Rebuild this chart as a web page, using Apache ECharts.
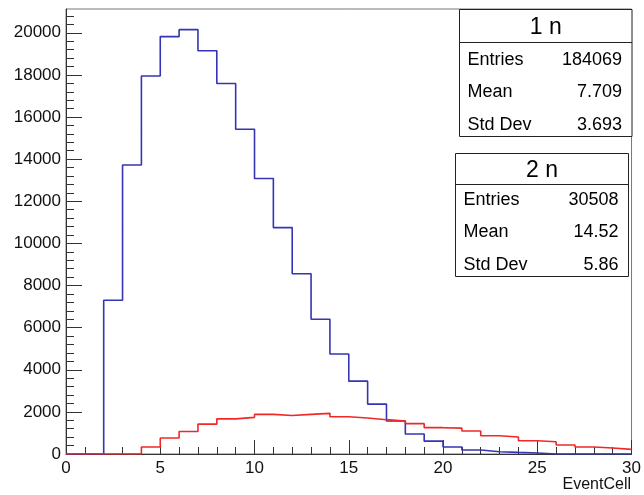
<!DOCTYPE html>
<html>
<head>
<meta charset="utf-8">
<script src="https://cdn.jsdelivr.net/npm/echarts@6/dist/echarts.min.js"></script>
<style>
  html, body { margin: 0; padding: 0; background: #ffffff; }
  #chart { width: 644px; height: 495px; }
</style>
</head>
<body>
<div id="chart"></div>
<script>
// EventCell distributions: 30 unit-width bins spanning 0..30
const binLowEdges = [0, 1, 2, 3, 4, 5, 6, 7, 8, 9, 10, 11, 12, 13, 14,
                     15, 16, 17, 18, 19, 20, 21, 22, 23, 24, 25, 26, 27, 28, 29];
const binWidth = 1;

// bin contents of histogram "1 n" (blue)
const counts1n = [0, 0, 7300, 13720, 17950, 19820, 20150, 19150, 17590, 15420,
                  13080, 10750, 8560, 6400, 4750, 3460, 2370, 1570, 950, 610,
                  330, 190, 110, 75, 50, 0, 0, 0, 0, 0];

// bin contents of histogram "2 n" (red)
const counts2n = [0, 0, 0, 0, 330, 760, 1070, 1420, 1670, 1740,
                  1880, 1830, 1880, 1930, 1770, 1710, 1630, 1570, 1440, 1250,
                  1230, 1090, 870, 810, 630, 580, 430, 330, 285, 220];

// axis ranges and tick labels
const xRange = [0, 30];
const xTickLabels = [0, 5, 10, 15, 20, 25, 30];
const yMax = 21130;
const yTickLabels = [0, 2000, 4000, 6000, 8000, 10000, 12000, 14000, 16000, 18000, 20000];
const yMinorStep = 400;
const xAxisTitle = 'EventCell';

// statistics boxes
const statNames = ['Entries', 'Mean', 'Std Dev'];
const statsTitle1n = '1 n';
const statsValues1n = ['184069', '7.709', '3.693'];
const statsTitle2n = '2 n';
const statsValues2n = ['30508', '14.52', '5.86'];

const FONT = '"Liberation Sans", Arial, Helvetica, sans-serif';

// histogram outline: one point per lower bin edge plus the upper edge of the last bin
function outline(counts) {
  const pts = binLowEdges.map((x, i) => [x, counts[i]]);
  const last = binLowEdges.length - 1;
  pts.push([binLowEdges[last] + binWidth, counts[last]]);
  return pts;
}

const yMinorTicks = [];
for (let v = yMinorStep; v < yMax; v += yMinorStep) {
  if (v % 2000 !== 0) yMinorTicks.push(v);
}

// stats box builder (graphic elements); rows are laid out from the separator down
function statsBox(x, y, w, h, headH, rowStart, rowStep, title, values) {
  const children = [
    { type: 'rect', shape: { x: 0, y: 0, width: w, height: h },
      style: { fill: '#ffffff', stroke: '#222222', lineWidth: 1 } },
    { type: 'line', shape: { x1: 0, y1: headH, x2: w, y2: headH },
      style: { stroke: '#222222', lineWidth: 1 } },
    { type: 'text', x: w / 2, y: headH / 2 + 2,
      style: { text: title, fill: '#000000', font: '23px ' + FONT,
               textAlign: 'center', textVerticalAlign: 'middle' } }
  ];
  statNames.forEach((name, i) => {
    const cy = headH + rowStart + rowStep * i;
    children.push({ type: 'text', x: 8, y: cy,
      style: { text: name, fill: '#000000', font: '18px ' + FONT,
               textAlign: 'left', textVerticalAlign: 'middle' } });
    children.push({ type: 'text', x: w - 10, y: cy,
      style: { text: values[i], fill: '#000000', font: '18px ' + FONT,
               textAlign: 'right', textVerticalAlign: 'middle' } });
  });
  return { type: 'group', x: x, y: y, z: 100, children: children };
}

const chart = echarts.init(document.getElementById('chart'), null, { renderer: 'canvas' });

chart.setOption({
  animation: false,
  backgroundColor: '#ffffff',
  grid: {
    left: 66, right: 12, top: 9, bottom: 41,
    show: true, borderColor: '#777777', borderWidth: 1, backgroundColor: 'transparent'
  },
  xAxis: {
    type: 'value',
    min: xRange[0], max: xRange[1], interval: 5,
    axisLine: { show: true, onZero: false, lineStyle: { color: '#333333', width: 1 } },
    axisTick: { show: true, inside: true, length: 14, lineStyle: { color: '#333333' } },
    minorTick: { show: true, splitNumber: 5, length: 7, lineStyle: { color: '#333333' } },
    axisLabel: {
      show: true, margin: 6, color: '#111111', fontSize: 17, fontFamily: FONT,
      customValues: xTickLabels,
      formatter: (v) => String(v)
    },
    splitLine: { show: false }
  },
  yAxis: [
    {
      type: 'value',
      min: 0, max: yMax,
      axisLine: { show: true, onZero: false, lineStyle: { color: '#333333', width: 1 } },
      axisTick: { show: true, inside: true, length: 16, customValues: yTickLabels,
                  lineStyle: { color: '#333333' } },
      axisLabel: { show: true, margin: 5, color: '#111111', fontSize: 17, fontFamily: FONT,
                   customValues: yTickLabels,
                   formatter: (v) => String(v) },
      splitLine: { show: false }
    },
    {
      type: 'value',
      position: 'left',
      min: 0, max: yMax,
      axisLine: { show: false },
      axisTick: { show: true, inside: true, length: 8, customValues: yMinorTicks,
                  lineStyle: { color: '#333333' } },
      axisLabel: { show: false },
      splitLine: { show: false }
    }
  ],
  series: [
    {
      name: '1 n', type: 'line', step: 'end', symbol: 'none',
      xAxisIndex: 0, yAxisIndex: 0,
      data: outline(counts1n),
      lineStyle: { color: '#3434b4', width: 1.6 },
      z: 2
    },
    {
      name: '2 n', type: 'line', step: 'end', symbol: 'none',
      xAxisIndex: 0, yAxisIndex: 0,
      data: outline(counts2n),
      lineStyle: { color: '#f02828', width: 1.6 },
      z: 3
    }
  ],
  graphic: [
    statsBox(459.5, 9.5, 172.5, 127, 33, 17.5, 32.3, statsTitle1n, statsValues1n),
    statsBox(455.5, 153.5, 173, 123, 31, 15.5, 32.3, statsTitle2n, statsValues2n),
    { type: 'text', right: 13, top: 477,
      style: { text: xAxisTitle, fill: '#111111', font: '16px ' + FONT } }
  ]
});
</script>
</body>
</html>
